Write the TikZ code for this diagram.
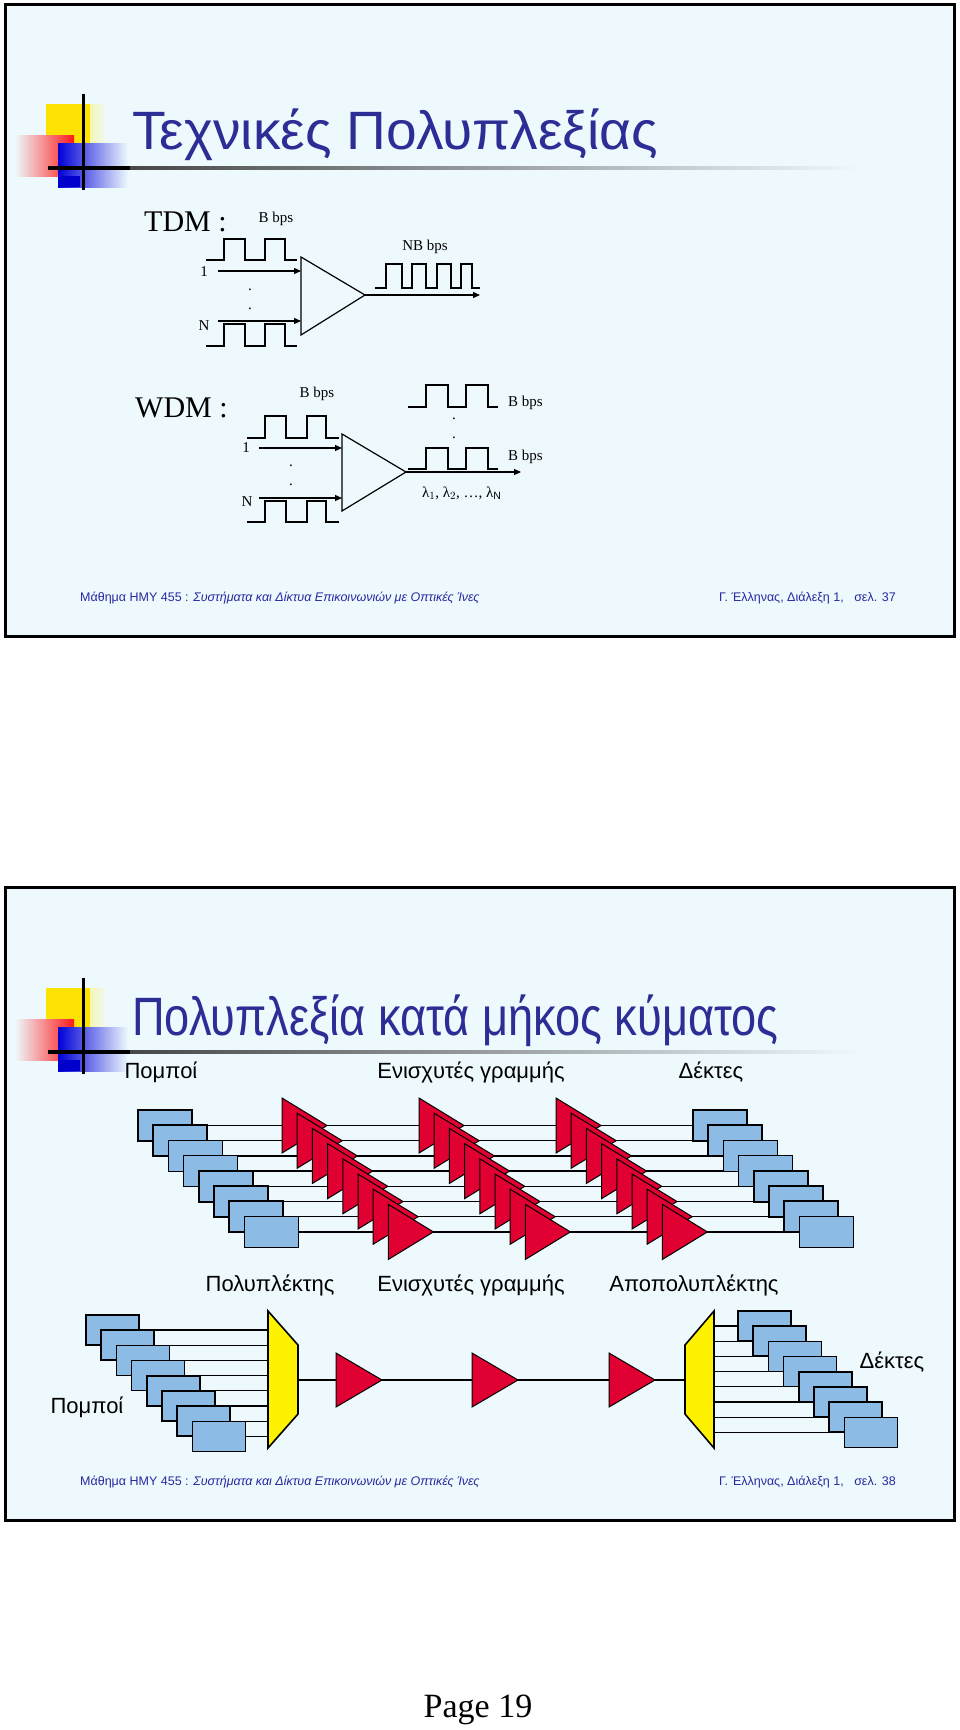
\documentclass[tikz,border=0pt]{standalone}
\usepackage{fontspec}
\setmainfont{Liberation Sans}
\newfontfamily\serifgr{Liberation Serif}
\usetikzlibrary{arrows.meta}
\definecolor{bgc}{RGB}{238,249,253}
\definecolor{ttl}{RGB}{45,45,150}
\definecolor{ftc}{RGB}{40,40,160}
\definecolor{boxb}{RGB}{140,188,230}
\definecolor{ampr}{RGB}{225,0,50}
\tikzset{
 slidebox/.style={draw=black,line width=3pt,fill=bgc},
 wire/.style={line width=1.3pt},
 pulse/.style={line width=1.2pt},
 arr/.style={line width=1.2pt,-{Triangle[length=7pt,width=6pt]}},
 sbox/.style={draw=black,line width=1.6pt,fill=boxb},
 amp/.style={draw=black,line width=1pt,fill=ampr},
 lbl/.style={inner sep=0pt,font=\fontsize{22}{24}\selectfont},
 srl/.style={inner sep=0pt,font=\serifgr\fontsize{15}{17}\selectfont},
 foot/.style={inner sep=0pt,text=ftc,font=\fontsize{12.5}{14}\selectfont},
}
\newcommand\mylogo{%
 \shade[left color=yellow!90!orange,right color=bgc] (46,104) rectangle (108,143);
 \fill[yellow!85!orange] (46,104) rectangle (90,143);
 \shade[left color=bgc,right color=red!90] (15,135) rectangle (74,176);
 \shade[left color=blue!85!black,right color=bgc] (58,143) rectangle (128,187);
 \fill[blue!80!black] (58,176) rectangle (80,187);
 \shade[left color=black!80,right color=bgc] (48,166.5) rectangle (860,169.5);
 \fill[black] (48,166) rectangle (130,170);
 \fill[black] (81.5,94) rectangle (84.5,190);
}
\newcommand\myfoot[1]{%
 \node[foot,anchor=west] (fl#1) at (80,598) {Μάθημα ΗΜΥ 455 : \textit{Συστήματα και Δίκτυα Επικοινωνιών με Οπτικές Ίνες}};
 \node[foot,anchor=east] (fr#1) at (896,598) {Γ. Έλληνας, Διάλεξη 1,\ \ \ σελ. #1};
}
\begin{document}
\begin{tikzpicture}[x=1pt,y=-1pt]
\useasboundingbox (0,0) rectangle (960,1730);
\fill[white] (0,0) rectangle (960,1730);
% ---------- slide 1
\draw[slidebox] (5,4) rectangle (954,636);
\mylogo
\node[anchor=base west,inner sep=0pt,text=ttl,font=\fontsize{54}{60}\selectfont,xscale=1.02,transform shape] (t1) at (132,149) {Τεχνικές Πολυπλεξίας};
% TDM
\node[anchor=base west,inner sep=0pt,font=\serifgr\fontsize{30}{32}\selectfont] (tdm) at (144,231) {TDM :};
\node[srl] (tb) at (276,219) {B bps};
\draw[pulse] (206,260) -- (224,260) -- (224,239) -- (245,239) -- (245,260) -- (265,260) -- (265,239) -- (285,239) -- (285,260) -- (297,260);
\draw[pulse] (206,346) -- (224,346) -- (224,324) -- (245,324) -- (245,346) -- (265,346) -- (265,324) -- (285,324) -- (285,346) -- (297,346);
\draw[amp,fill=none,line width=1.2pt] (301,257) -- (365,295) -- (301,335) -- cycle;
\coordinate (ta1) at (218,271); \coordinate (ta1e) at (301,271);
\coordinate (taN) at (218,321); \coordinate (taNe) at (301,321);
\draw[arr] (ta1) -- (ta1e);
\draw[arr] (taN) -- (taNe);
\node[srl] (t1l) at (204,272) {1};
\node[srl] (tNl) at (204,326) {N};
\node[srl] (td1) at (250,290) {.};
\node[srl] (td2) at (250,309) {.};
\coordinate (tap) at (365,295); \coordinate (tout) at (480,295);
\draw[arr] (tap) -- (tout);
\draw[pulse] (375,288) -- (386,288) -- (386,264) -- (402,264) -- (402,288) -- (412,288) -- (412,264) -- (426,264) -- (426,288) -- (437,288) -- (437,264) -- (451,264) -- (451,288) -- (461,288) -- (461,264) -- (472,264) -- (472,288) -- (480,288);
\node[srl] (nb) at (425,247) {NB bps};
% WDM
\node[anchor=base west,inner sep=0pt,font=\serifgr\fontsize{30}{32}\selectfont] (wdm) at (135,417) {WDM :};
\node[srl] (wb) at (317,394) {B bps};
\draw[pulse] (247,438) -- (265,438) -- (265,416) -- (286,416) -- (286,438) -- (307,438) -- (307,416) -- (326,416) -- (326,438) -- (339,438);
\draw[pulse] (247,522) -- (265,522) -- (265,501) -- (286,501) -- (286,522) -- (307,522) -- (307,501) -- (326,501) -- (326,522) -- (339,522);
\draw[amp,fill=none,line width=1.2pt] (342,434) -- (406,472) -- (342,511) -- cycle;
\coordinate (wa1) at (259,448); \coordinate (wa1e) at (342,448);
\coordinate (waN) at (259,498); \coordinate (waNe) at (342,498);
\draw[arr] (wa1) -- (wa1e);
\draw[arr] (waN) -- (waNe);
\node[srl] (w1l) at (246,448) {1};
\node[srl] (wNl) at (247,502) {N};
\node[srl] (wd1) at (291,466) {.};
\node[srl] (wd2) at (291,485) {.};
\coordinate (wap) at (406,472); \coordinate (wout) at (521,472);
\draw[arr] (wap) -- (wout);
\draw[pulse] (408,407) -- (426,407) -- (426,385) -- (448,385) -- (448,407) -- (466,407) -- (466,385) -- (488,385) -- (488,407) -- (498,407);
\draw[pulse] (408,469) -- (426,469) -- (426,448) -- (448,448) -- (448,469) -- (466,469) -- (466,448) -- (488,448) -- (488,469) -- (498,469);
\node[srl] (wd3) at (454,419) {.};
\node[srl] (wd4) at (454,438) {.};
\node[srl,anchor=west] (wb1) at (508,403) {B bps};
\node[srl,anchor=west] (wb2) at (508,457) {B bps};
\node[srl,anchor=west] (lam) at (422,493) {λ$_1$, λ$_2$, …, λ$_\mathrm{N}$};
\myfoot{37}
% ---------- slide 2
\draw[slidebox] (5,887) rectangle (954,1520);
\begin{scope}[shift={(0,884)}]
\mylogo
\node[anchor=base west,inner sep=0pt,text=ttl,font=\fontsize{54}{60}\selectfont,xscale=0.837,transform shape] (t2) at (132,151) {Πολυπλεξία κατά μήκος κύματος};
\myfoot{38}
\end{scope}
\node[lbl] (p1) at (161,1072) {Πομποί};
\node[lbl] (e1) at (471,1072) {Ενισχυτές γραμμής};
\node[lbl] (d1) at (711,1072) {Δέκτες};
\node[lbl] (m2) at (270,1285) {Πολυπλέκτης};
\node[lbl] (e2) at (471,1285) {Ενισχυτές γραμμής};
\node[lbl] (dm2) at (694,1285) {Αποπολυπλέκτης};
\node[lbl] (d2) at (892,1362) {Δέκτες};
\node[lbl] (p2) at (87,1407) {Πομποί};
% top system
\foreach \i in {0,...,7}{
 \pgfmathsetmacro\dx{15.2*\i}
 \draw[wire] (192+\dx,1125.5+\dx) -- (693+\dx,1125.5+\dx);
}
\foreach \i in {0,...,7}{
 \pgfmathsetmacro\dx{15.2*\i}
 \draw[sbox] (138+\dx,1110+\dx) rectangle (192+\dx,1141+\dx);
 \draw[sbox] (693+\dx,1110+\dx) rectangle (747+\dx,1141+\dx);
}
\foreach \g in {0,1,2}{
 \foreach \i in {0,...,7}{
  \pgfmathsetmacro\dx{15.2*\i}
  \pgfmathsetmacro\gx{282+137*\g+\dx}
  \draw[amp] (\gx,1098+\dx) -- (\gx+45,1125.5+\dx) -- (\gx,1153+\dx) -- cycle;
 }
}
% bottom system
\foreach \i in {0,...,7}{
 \pgfmathsetmacro\dx{15.2*\i}
 \draw[wire] (139+\dx,1330+\dx) -- (268,1330+\dx);
 \draw[wire] (714,1326+\dx) -- (738+\dx,1326+\dx);
}
\foreach \i in {0,...,7}{
 \pgfmathsetmacro\dx{15.2*\i}
 \draw[sbox] (86+\dx,1315+\dx) rectangle (139+\dx,1345+\dx);
 \draw[sbox] (738+\dx,1311+\dx) rectangle (791+\dx,1341+\dx);
}
\draw[wire] (298,1380) -- (685,1380);
\draw[draw=black,line width=1.6pt,fill=yellow] (268,1311) -- (298,1345) -- (298,1414) -- (268,1448) -- cycle;
\draw[draw=black,line width=1.6pt,fill=yellow] (714,1311) -- (685,1345) -- (685,1414) -- (714,1448) -- cycle;
\foreach \ax in {336,472,609}{
 \draw[amp] (\ax,1353) -- (\ax+46,1380) -- (\ax,1407) -- cycle;
}
\node[inner sep=0pt,font=\serifgr\fontsize{34}{36}\selectfont] (pg) at (478,1710) {Page 19};
\end{tikzpicture}
\end{document}
